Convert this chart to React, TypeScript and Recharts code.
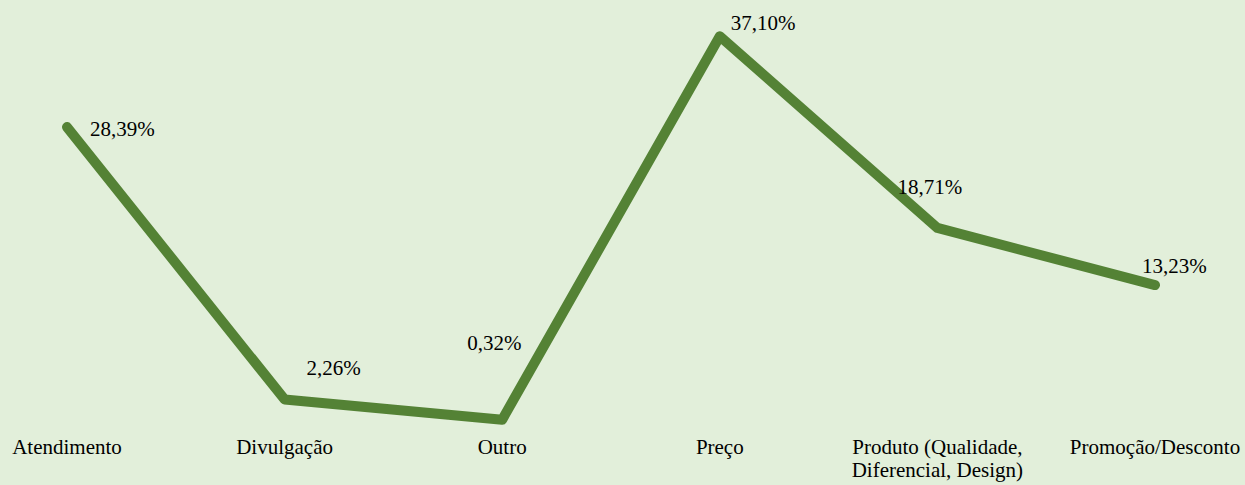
import { LineChart, Line, XAxis, YAxis, LabelList, Text } from 'recharts'

const categories = [
  'Atendimento',
  'Divulgação',
  'Outro',
  'Preço',
  'Produto (Qualidade, Diferencial, Design)',
  'Promoção/Desconto',
]
const shares = [28.39, 2.26, 0.32, 37.1, 18.71, 13.23]

// hand-placed label offsets (left edge / vertical middle relative to the point)
const labelOffsets = [
  [23, 2],
  [22, -32],
  [-35, -77],
  [11, -14],
  [-40, -41],
  [-13, -20],
]

const data = categories.map((name, i) => ({ name, value: shares[i] }))

const font = 'Liberation Serif, Times New Roman, serif'
const fmt = (v: number) => v.toFixed(2).replace('.', ',') + '%'

function CategoryTick({ x, y, payload }: any) {
  return (
    <Text
      x={x}
      y={y}
      width={195}
      textAnchor="middle"
      verticalAnchor="start"
      lineHeight={23}
      style={{ fontFamily: font, fontSize: 21 }}
      fill="#000"
    >
      {payload.value}
    </Text>
  )
}

function PointLabel(props: any) {
  const { x, y, value, index } = props
  const [dx, dy] = labelOffsets[index]
  return (
    <Text
      x={x + dx}
      y={y + dy}
      textAnchor="start"
      verticalAnchor="middle"
      fontFamily={font}
      style={{ fontFamily: font, fontSize: 21 }}
      fill="#000"
    >
      {fmt(value)}
    </Text>
  )
}

export default function App() {
  return (
    <div style={{ position: 'absolute', left: 0, top: 0, width: 1245, height: 485, background: '#E2EFDA' }}>
      <LineChart width={1245} height={485} data={data} margin={{ top: 6, right: 0, bottom: 0, left: 0 }}>
        <XAxis
          dataKey="name"
          height={62}
          axisLine={false}
          tickLine={false}
          tickMargin={10}
          interval={0}
          padding={{ left: 67, right: 90 }}
          tick={<CategoryTick />}
        />
        <YAxis hide domain={[0, 40]} />
        <Line
          dataKey="value"
          stroke="#548235"
          strokeWidth={10}
          strokeLinecap="round"
          strokeLinejoin="round"
          dot={false}
          activeDot={false}
          isAnimationActive={false}
        >
          <LabelList dataKey="value" content={<PointLabel />} />
        </Line>
      </LineChart>
    </div>
  )
}
